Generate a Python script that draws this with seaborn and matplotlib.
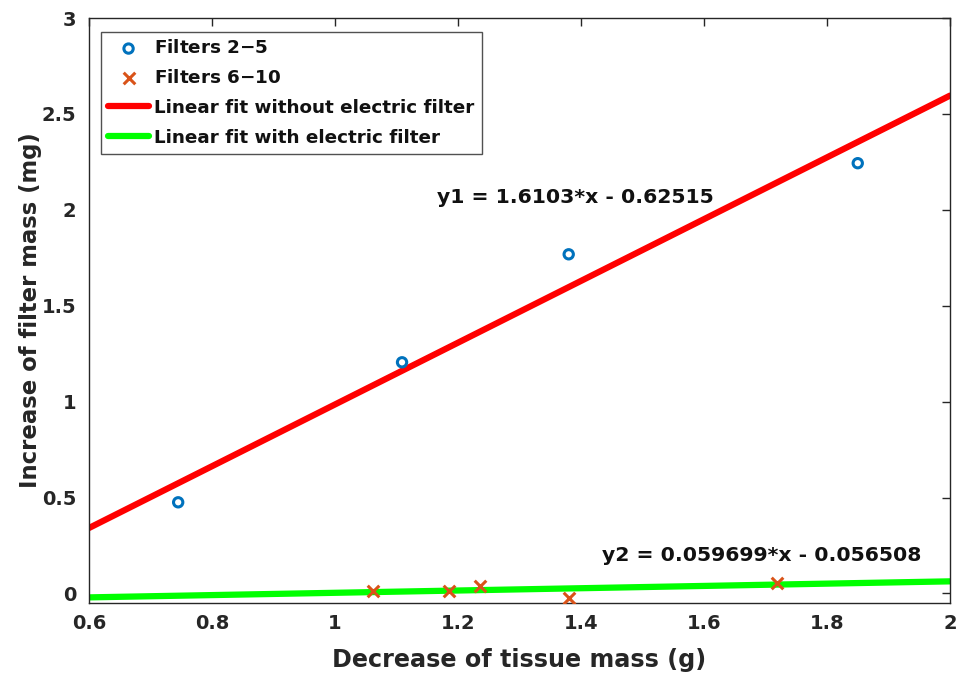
import numpy as np
import pandas as pd
import matplotlib
matplotlib.use("Agg")
import matplotlib.pyplot as plt
import seaborn as sns

# Data
x_f25 = [0.745, 1.109, 1.380, 1.850]
y_f25 = [0.475, 1.205, 1.768, 2.243]
x_f610 = [1.062, 1.185, 1.236, 1.380, 1.719]
y_f610 = [0.010, 0.010, 0.040, -0.025, 0.055]
fit1 = [1.6103, -0.62515]
fit2 = [0.059699, -0.056508]
x_fit = [0.6, 2.0]

sns.set_style("white")
plt.rcParams['font.family'] = ['DejaVu Sans']
plt.rcParams['font.weight'] = 'bold'

fig = plt.figure(figsize=(9.63, 6.81), dpi=100)
ax = fig.add_axes([89/963, 1-603/681, (950-89)/963, (603-18)/681])

df1 = pd.DataFrame({"x": x_fit, "y": [fit1[0]*v + fit1[1] for v in x_fit]})
df2 = pd.DataFrame({"x": x_fit, "y": [fit2[0]*v + fit2[1] for v in x_fit]})

blue = (0, 0.447, 0.741)
orange = (0.85, 0.325, 0.098)
dark = '#262626'

sns.scatterplot(x=x_f25, y=y_f25, ax=ax, marker='o', s=45, facecolor='none',
                edgecolor=blue, linewidth=2.2, label='Filters 2$-$5', zorder=3)
sns.scatterplot(x=x_f610, y=y_f610, ax=ax, marker='x', s=70, color=orange,
                linewidth=2.2, label='Filters 6$-$10', zorder=3)
sns.lineplot(data=df1, x="x", y="y", ax=ax, color='#ff0000', linewidth=4.5,
             label='Linear fit without electric filter', zorder=2)
sns.lineplot(data=df2, x="x", y="y", ax=ax, color='#00ff00', linewidth=4.5,
             label='Linear fit with electric filter', zorder=2)

ax.set_xlim(0.6, 2.0)
ax.set_ylim(-0.05, 3.0)
ax.set_xticks([0.6, 0.8, 1, 1.2, 1.4, 1.6, 1.8, 2])
ax.set_xticklabels(['0.6', '0.8', '1', '1.2', '1.4', '1.6', '1.8', '2'])
ax.set_yticks([0, 0.5, 1, 1.5, 2, 2.5, 3])
ax.set_yticklabels(['0', '0.5', '1', '1.5', '2', '2.5', '3'])
ax.tick_params(direction='in', length=6, width=1, colors=dark,
               labelsize=14, top=True, right=True, labelcolor=dark)
ax.tick_params(axis='y', pad=9)
ax.tick_params(axis='x', pad=8)
for lab in ax.get_xticklabels() + ax.get_yticklabels():
    lab.set_fontweight('bold')
for sp in ax.spines.values():
    sp.set_color(dark)
    sp.set_linewidth(1)

ax.set_xlabel('Decrease of tissue mass (g)', fontsize=17.2, fontweight='bold', color=dark, labelpad=11)
ax.set_ylabel('Increase of filter mass (mg)', fontsize=16.4, fontweight='bold', color=dark, labelpad=0)

ax.text(1.166, 2.065, 'y1 = 1.6103*x - 0.62515', fontsize=14.7, fontweight='bold',
        va='center', color='#111111')
ax.text(1.434, 0.20, 'y2 = 0.059699*x - 0.056508', fontsize=14.7, fontweight='bold',
        va='center', color='#111111')

leg = ax.legend(loc='upper left', bbox_to_anchor=(0.014, 0.976), fontsize=13.2,
                frameon=True, fancybox=False, edgecolor=dark, handlelength=2.2,
                handletextpad=0.3, borderpad=0.4, labelspacing=0.64, borderaxespad=0)
leg.get_frame().set_linewidth(1)
for t in leg.get_texts():
    t.set_fontweight('bold')
    t.set_color('#111111')

fig.savefig('out.png', dpi=100)
